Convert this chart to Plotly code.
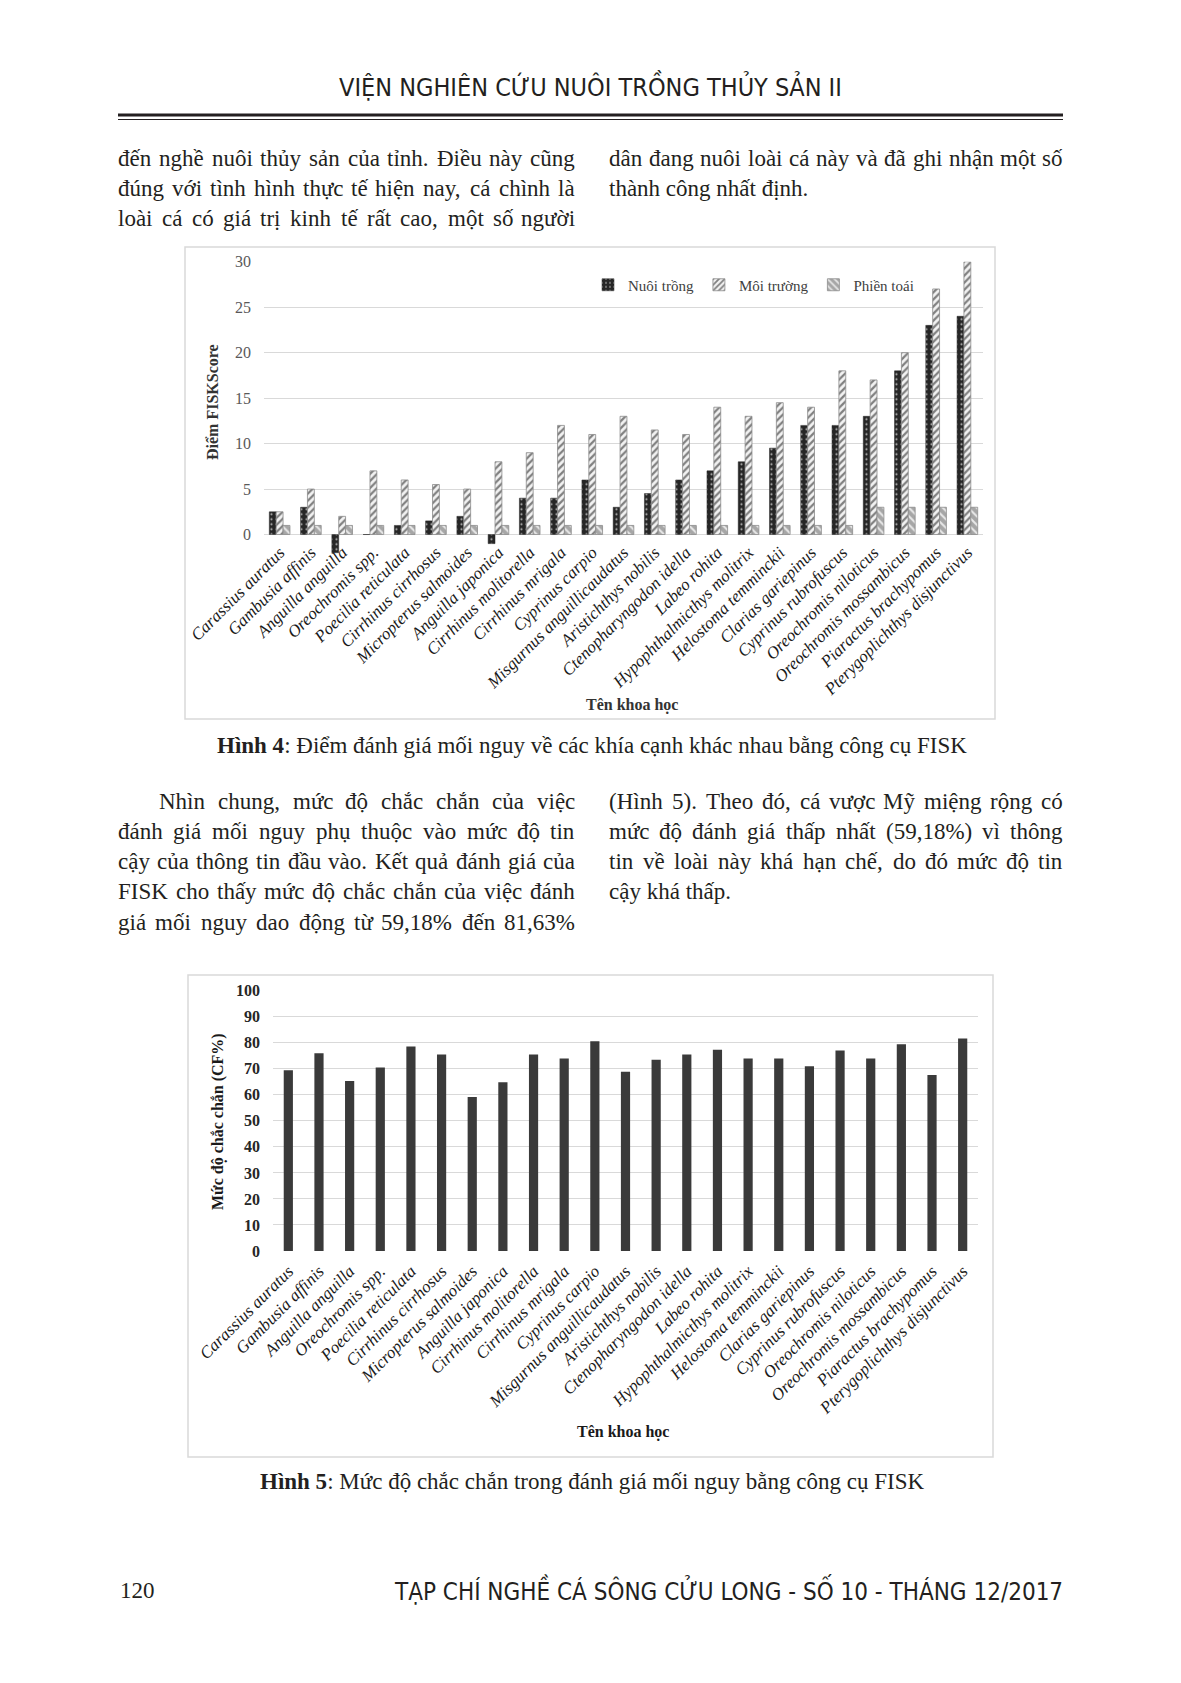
import unicodedata
import plotly.graph_objects as go

W, H = 1181, 1683

# ---------------- data ----------------
species = [
    "Carassius auratus", "Gambusia affinis", "Anguilla anguilla", "Oreochromis spp.",
    "Poecilia reticulata", "Cirrhinus cirrhosus", "Micropterus salmoides", "Anguilla japonica",
    "Cirrhinus molitorella", "Cirrhinus mrigala", "Cyprinus carpio", "Misgurnus anguillicaudatus",
    "Aristichthys nobilis", "Ctenopharyngodon idella", "Labeo rohita", "Hypophthalmicthys molitrix",
    "Helostoma temminckii", "Clarias gariepinus", "Cyprinus rubrofuscus", "Oreochromis niloticus",
    "Oreochromis mossambicus", "Piaractus brachypomus", "Pterygoplichthys disjunctivus",
]
nuoi_trong = [2.5, 3, -2, 0, 1, 1.5, 2, -1, 4, 4, 6, 3, 4.5, 6, 7, 8, 9.5, 12, 12, 13, 18, 23, 24]
moi_truong = [2.5, 5, 2, 7, 6, 5.5, 5, 8, 9, 12, 11, 13, 11.5, 11, 14, 13, 14.5, 14, 18, 17, 20, 27, 30]
phien_toai = [1, 1, 1, 1, 1, 1, 1, 1, 1, 1, 1, 1, 1, 1, 1, 1, 1, 1, 1, 3, 3, 3, 3]
cf_percent = [69.4, 76.0, 65.3, 70.5, 78.6, 75.5, 59.18, 64.8, 75.5, 74.0, 80.6, 68.9,
              73.5, 75.5, 77.3, 74.0, 74.0, 71.0, 77.0, 74.0, 79.4, 67.6, 81.63]
fisk_ticks = [-5, 0, 5, 10, 15, 20, 25, 30]
fisk_tick_text = ["", "0", "5", "10", "15", "20", "25", "30"]
cf_ticks = [0, 10, 20, 30, 40, 50, 60, 70, 80, 90, 100]

header = "VIỆN NGHIÊN CỨU NUÔI TRỒNG THỦY SẢN II"
footer = "TẠP CHÍ NGHỀ CÁ SÔNG CỬU LONG - SỐ 10 - THÁNG 12/2017"
page_no = "120"
para1_left = ["đến nghề nuôi thủy sản của tỉnh. Điều này cũng",
              "đúng với tình hình thực tế hiện nay, cá chình là",
              "loài cá có giá trị kinh tế rất cao, một số người"]
para1_right = ["dân đang nuôi loài cá này và đã ghi nhận một số",
               "thành công nhất định."]
para2_left = ["Nhìn chung, mức độ chắc chắn của việc",
              "đánh giá mối nguy phụ thuộc vào mức độ tin",
              "cậy của thông tin đầu vào. Kết quả đánh giá của",
              "FISK cho thấy mức độ chắc chắn của việc đánh",
              "giá mối nguy dao động từ 59,18% đến 81,63%"]
para2_right = ["(Hình 5). Theo đó, cá vược Mỹ miệng rộng có",
               "mức độ đánh giá thấp nhất (59,18%) vì thông",
               "tin về loài này khá hạn chế, do đó mức độ tin",
               "cậy khá thấp."]
caption4 = "<b>Hình 4</b>: Điểm đánh giá mối nguy về các khía cạnh khác nhau bằng công cụ FISK"
caption5 = "<b>Hình 5</b>: Mức độ chắc chắn trong đánh giá mối nguy bằng công cụ FISK"

SERIF = "Liberation Serif, Times New Roman, serif"
NARROW = "Liberation Sans Narrow, Arial Narrow, DejaVu Sans Condensed, Liberation Sans, sans-serif"
INK = "#231f20"

fig = go.Figure()

# ---------------- chart 1 ----------------
fig.add_trace(go.Bar(
    x=species, y=nuoi_trong, name="Nuôi trồng", xaxis="x", yaxis="y",
    width=0.22, offset=-0.33,
    marker=dict(color="#262626", line=dict(color="#262626", width=0.5),
                pattern=dict(shape=".", bgcolor="#262626", fgcolor="#b5b5b5",
                             size=5, solidity=0.15, fillmode="replace"))))
fig.add_trace(go.Bar(
    x=species, y=moi_truong, name="Môi trường", xaxis="x", yaxis="y",
    width=0.22, offset=-0.11,
    marker=dict(color="#f2f2f2", line=dict(color="#8c8c8c", width=0.8),
                pattern=dict(shape="/", bgcolor="#f2f2f2", fgcolor="#808080",
                             size=5, solidity=0.45, fillmode="replace"))))
fig.add_trace(go.Bar(
    x=species, y=phien_toai, name="Phiền toái", xaxis="x", yaxis="y",
    width=0.22, offset=0.11,
    marker=dict(color="#a6a6a6", line=dict(color="#8c8c8c", width=0.8),
                pattern=dict(shape="\\", bgcolor="#a6a6a6", fgcolor="#e8e8e8",
                             size=6, solidity=0.35, fillmode="replace"))))

# ---------------- chart 2 ----------------
fig.add_trace(go.Bar(
    x=species, y=cf_percent, xaxis="x2", yaxis="y2", showlegend=False,
    width=0.3, offset=-0.15,
    marker=dict(color="#3a3a3a", line=dict(color="#3a3a3a", width=0))))


def py(y):
    return 1 - y / H


fig.update_layout(
    width=W, height=H, margin=dict(l=0, r=0, t=0, b=0, pad=0, autoexpand=False),
    paper_bgcolor="white", plot_bgcolor="rgba(0,0,0,0)",
    barmode="group", showlegend=True,
    legend=dict(orientation="h", x=588 / W, y=py(285), xanchor="left", yanchor="middle",
                font=dict(family=SERIF, size=15, color="#404040"), itemwidth=30,
                bgcolor="rgba(0,0,0,0)", traceorder="normal", entrywidthmode="pixels"),
    xaxis=dict(domain=[264 / W, 983 / W], anchor="free", position=py(534.3),
               type="category", tickmode="array", tickvals=species,
               ticktext=["<i>%s</i>" % s for s in species], tickangle=-45,
               tickfont=dict(family=SERIF, size=17, color="#1a1a1a"),
               showgrid=False, zeroline=False, showline=False, ticks="",
               ticklabelstandoff=4, automargin=False),
    yaxis=dict(domain=[py(580), py(261.7)], anchor="x", range=[-5, 30],
               tickmode="array", tickvals=fisk_ticks, ticktext=fisk_tick_text,
               gridcolor="#d9d9d9", gridwidth=1, zeroline=False, showline=False,
               tickfont=dict(family=SERIF, size=16, color="#595959"),
               ticklabelstandoff=12, automargin=False),
    xaxis2=dict(domain=[273 / W, 978 / W], anchor="y2", type="category",
                tickmode="array", tickvals=species,
                ticktext=["<i>%s</i>" % s for s in species], tickangle=-45,
                tickfont=dict(family=SERIF, size=17, color="#1a1a1a"),
                showgrid=False, zeroline=False, showline=False, ticks="",
                ticklabelstandoff=6, automargin=False),
    yaxis2=dict(domain=[py(1251), py(990.7)], anchor="x2", range=[0, 100],
                tickmode="array", tickvals=cf_ticks,
                ticktext=["<b>%d</b>" % v for v in cf_ticks],
                gridcolor="#d9d9d9", gridwidth=1, zeroline=False, showline=False,
                tickfont=dict(family=SERIF, size=16, color="#262626"),
                ticklabelstandoff=12, automargin=False),
)

# ---------------- text helpers ----------------
TW = {' ': .25, '!': .333, '(': .333, ')': .333, '%': .833, ',': .25, '-': .333, '.': .25,
      '/': .278, ':': .278, '0': .5, '1': .5, '2': .5, '3': .5, '4': .5, '5': .5, '6': .5,
      '7': .5, '8': .5, '9': .5,
      'A': .722, 'B': .667, 'C': .667, 'D': .722, 'E': .611, 'F': .556, 'G': .722, 'H': .722,
      'I': .333, 'J': .389, 'K': .722, 'L': .611, 'M': .889, 'N': .722, 'O': .722, 'P': .556,
      'Q': .722, 'R': .667, 'S': .556, 'T': .611, 'U': .722, 'V': .722, 'W': .944, 'X': .722,
      'Y': .722, 'Z': .611,
      'a': .444, 'b': .5, 'c': .444, 'd': .5, 'e': .444, 'f': .333, 'g': .5, 'h': .5, 'i': .278,
      'j': .278, 'k': .5, 'l': .278, 'm': .778, 'n': .5, 'o': .5, 'p': .5, 'q': .5, 'r': .333,
      's': .389, 't': .278, 'u': .5, 'v': .5, 'w': .722, 'x': .5, 'y': .5, 'z': .444}


def base(c):
    if c == 'đ':
        return 'd'
    if c == 'Đ':
        return 'D'
    return unicodedata.normalize('NFD', c)[0]


def wlen(word, size):
    return sum(TW.get(base(c), 0.5) for c in word) * size


def ann(x, y, text, size, family=SERIF, color=INK, xanchor="left", yanchor="middle", angle=0):
    fig.add_annotation(x=x / W, y=py(y), xref="paper", yref="paper", text=text,
                       showarrow=False, font=dict(family=family, size=size, color=color),
                       xanchor=xanchor, yanchor=yanchor, textangle=angle,
                       borderpad=0, borderwidth=0)


def line(text, x0, x1, y, size=23, justify=True):
    words = text.split(" ")
    if not justify or len(words) < 2:
        ann(x0, y, text, size)
        return
    ws = [wlen(w, size) for w in words]
    gap = (x1 - x0 - sum(ws)) / (len(words) - 1)
    x = x0
    for i, w in enumerate(words):
        if i == len(words) - 1:
            ann(x1, y, w, size, xanchor="right")
        else:
            ann(x, y, w, size)
        x += ws[i] + gap


LX0, LX1, RX0, RX1 = 118, 575, 609, 1063

# header
ann(590, 86, header, 25, family=NARROW, xanchor="center")
fig.add_shape(type="line", xref="paper", yref="paper", x0=118 / W, x1=1063 / W,
              y0=py(115), y1=py(115), line=dict(color="#231f20", width=3))
fig.add_shape(type="line", xref="paper", yref="paper", x0=118 / W, x1=1063 / W,
              y0=py(119.5), y1=py(119.5), line=dict(color="#231f20", width=1))

# paragraph 1
for i, t in enumerate(para1_left):
    line(t, LX0, LX1, 158 + 30 * i)
for i, t in enumerate(para1_right):
    line(t, RX0, RX1, 158 + 30 * i, justify=(i < len(para1_right) - 1))

# chart frames
fig.add_shape(type="rect", xref="paper", yref="paper", x0=185 / W, x1=995 / W,
              y0=py(719), y1=py(247), line=dict(color="#d9d9d9", width=1.5), layer="below")
fig.add_shape(type="rect", xref="paper", yref="paper", x0=188 / W, x1=993 / W,
              y0=py(1457), y1=py(975), line=dict(color="#d9d9d9", width=1.5), layer="below")

# chart 1 titles
ann(212, 402, "<b>Điểm FISKScore</b>", 16, color="#333333", xanchor="center", angle=-90)
ann(632, 705, "<b>Tên khoa học</b>", 16, color="#333333", xanchor="center")
ann(592, 745, caption4, 23, xanchor="center")

# paragraph 2
for i, t in enumerate(para2_left):
    line(t, 159 if i == 0 else LX0, LX1, 801 + 30.3 * i)
for i, t in enumerate(para2_right):
    line(t, RX0, RX1, 801 + 30.3 * i, justify=(i < len(para2_right) - 1))

# chart 2 titles
ann(218, 1122, "<b>Mức độ chắc chắn (CF%)</b>", 16, color="#1a1a1a", xanchor="center", angle=-90)
ann(623, 1432, "<b>Tên khoa học</b>", 16, color="#1a1a1a", xanchor="center")
ann(592, 1481, caption5, 23, xanchor="center")

# footer
ann(120, 1590, page_no, 23)
ann(1063, 1590, footer, 24, family=NARROW, xanchor="right")

fig.write_html("out.html")
